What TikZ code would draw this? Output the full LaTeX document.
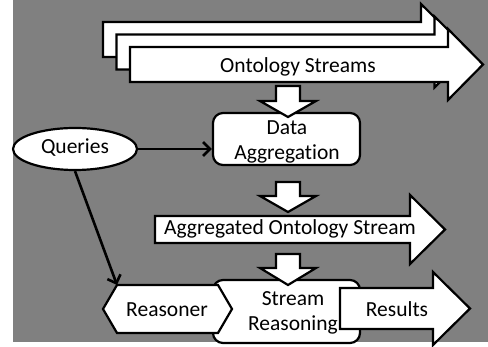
\documentclass[tikz,border=0pt]{standalone}
\usepackage{fontspec}
\setmainfont{Carlito}[Ligatures=NoCommon]
\usetikzlibrary{shapes.geometric,arrows.meta}
\definecolor{bggray}{RGB}{128,128,128}
\begin{document}
\begin{tikzpicture}[x=1pt,y=-1pt,
  outl/.style={draw=black,line width=2.2pt,fill=white,line join=miter},
  txt/.style={font=\fontsize{21.5}{25}\selectfont,align=center,inner sep=0pt},
  box/.style={outl,rounded corners=10pt,inner sep=0pt},
  conn/.style={line width=2.6pt,-{Straight Barb[length=7pt,width=14pt,line width=2.6pt]}}
]
\useasboundingbox (0,0) rectangle (488,347);
\fill[bggray] (13,0) rectangle (488,342);
% ontology streams (back to front)
\draw[outl] (103,22) -- (421,22) -- (421,4) -- (457,39.5) -- (421,75) -- (421,57) -- (103,57) -- cycle;
\draw[outl] (116.5,34.5) -- (434.5,34.5) -- (434.5,16.5) -- (470.5,52) -- (434.5,87.5) -- (434.5,69.5) -- (116.5,69.5) -- cycle;
\draw[outl] (130,47) -- (448,47) -- (448,29) -- (483,64.5) -- (448,100) -- (448,82) -- (130,82) -- cycle;
\node[txt] (os) at (298,67) {Ontology Streams};
% data aggregation
\node[box,minimum width=147pt,minimum height=52pt] (da) at (286.5,139) {};
\node[txt] (dat) at (287,142) {Data\\Aggregation};
\draw[outl] (276,86) -- (300,86) -- (300,101) -- (316,101) -- (288,117) -- (260,101) -- (276,101) -- cycle;
% queries
\node[ellipse,outl,minimum width=124pt,minimum height=42pt,inner sep=0pt] (q) at (75,149) {};
\node[txt] (qt) at (75,148) {Queries};
\draw[conn] (q.east) -- (da.west |- q.east);
% aggregated ontology stream
\draw[outl] (155,216) -- (410,216) -- (410,195) -- (445,229.5) -- (410,264) -- (410,243) -- (155,243) -- cycle;
\node[txt] (aos) at (290,229) {Aggregated Ontology Stream};
\draw[outl] (276,182) -- (300,182) -- (300,196) -- (316,196) -- (288,212) -- (260,196) -- (276,196) -- cycle;
% stream reasoning
\node[box,minimum width=147pt,minimum height=63pt] (sr) at (286.5,311.5) {};
\draw[outl] (103,309) -- (117,285) -- (218,285) -- (232,309) -- (218,333) -- (117,333) -- cycle;
\coordinate (rtl) at (117,285);
\node[txt] (rs) at (167,310) {Reasoner};
\node[txt] (srt) at (293,313) {Stream\\Reasoning};
\draw[outl] (340,288) -- (433,288) -- (433,272) -- (470,308.5) -- (433,345) -- (433,329) -- (340,329) -- cycle;
\node[txt] (res) at (397,309) {Results};
\draw[outl] (276,254) -- (300,254) -- (300,268) -- (316,268) -- (288,285) -- (260,268) -- (276,268) -- cycle;
\draw[conn] (q.south) -- (rtl);
\end{tikzpicture}
\end{document}
